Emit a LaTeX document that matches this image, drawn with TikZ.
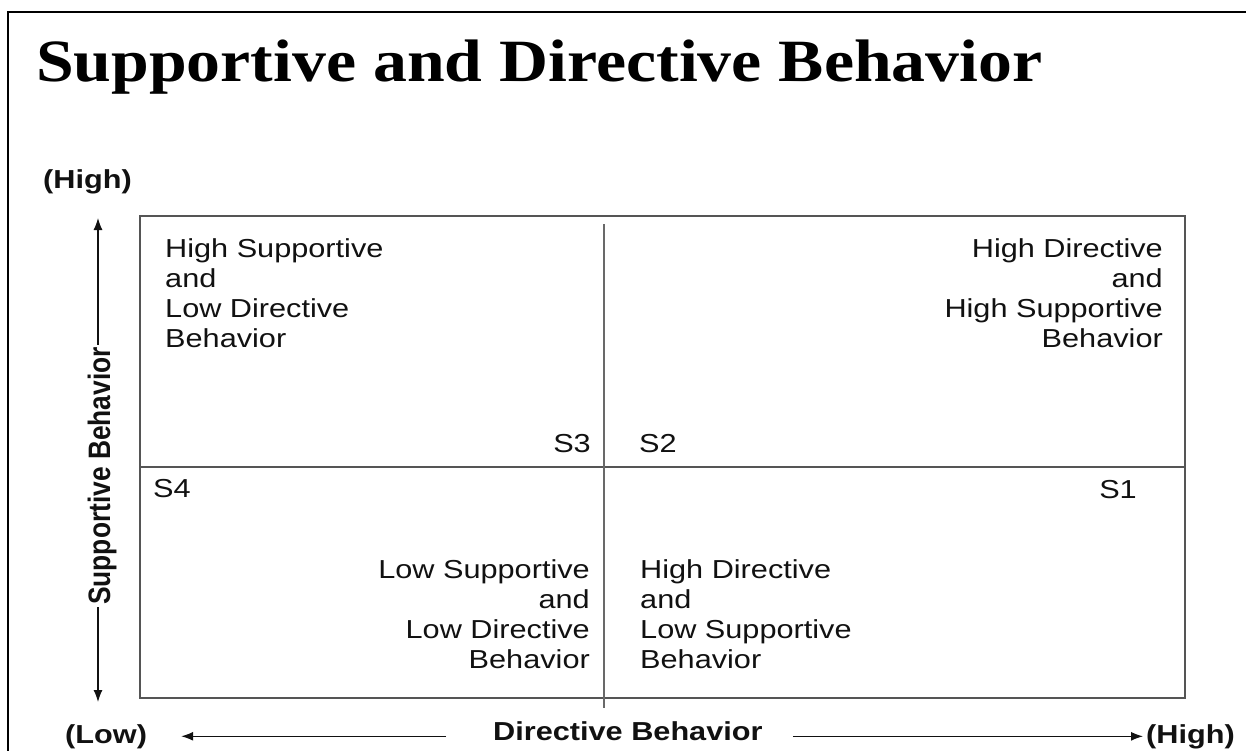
\documentclass[tikz,border=0pt]{standalone}
\usepackage{fontspec}
\setmainfont{Liberation Sans}[FakeStretch=1.18]
\newfontfamily\titlefont{Liberation Serif}[FakeStretch=1.13]
\newfontfamily\sidefont{Liberation Sans}[FakeStretch=0.85]
\usetikzlibrary{arrows.meta,positioning}
\definecolor{gridgray}{RGB}{85,85,85}
\definecolor{divgray}{RGB}{105,105,105}
\definecolor{inkblack}{RGB}{17,17,17}
\tikzset{
  qtext/.style={font=\fontsize{26bp}{30bp}\selectfont,text=inkblack,inner sep=0pt},
  axtext/.style={font=\fontsize{26bp}{30bp}\selectfont\bfseries,text=inkblack,inner sep=0pt},
  axarrow/.style={-{Latex[length=12bp,width=9bp]},line width=1.2bp,inkblack},
  quadline/.style={gridgray,line width=1.6bp}
}

\begin{document}
\begin{tikzpicture}[x=1bp,y=-1bp]
\useasboundingbox (0,0) rectangle (1246,751);
% Slide frame
\draw[line width=2.5bp,black] (8,760) -- (8,12) -- (1250,12);
% Title
\node[font={\titlefont\bfseries\fontsize{60bp}{62bp}\selectfont},anchor=base west,inner sep=0pt] (title) at (36,82) {Supportive and Directive Behavior};
% Grid
\coordinate (boxNW) at (140,216);
\coordinate (boxSE) at (1185,698);
\coordinate (midW) at (140,467);
\coordinate (midE) at (1185,467);
\coordinate (midN) at (604,224);
\coordinate (midS) at (604,708);
\draw[quadline] (boxNW) rectangle (boxSE);
\draw[quadline] (midW) -- (midE);
\draw[divgray,line width=2bp] (midN) -- (midS);
% Quadrant texts
\node[qtext,anchor=base west] (s3text) at (165,257) {\begin{tabular}[t]{@{}l@{}}High Supportive\\and\\Low Directive\\Behavior\end{tabular}};
\node[qtext,anchor=base east] (s2text) at (1163,257) {\begin{tabular}[t]{@{}r@{}}High Directive\\and\\High Supportive\\Behavior\end{tabular}};
\node[qtext,anchor=base east] (s4text) at (590,578) {\begin{tabular}[t]{@{}r@{}}Low Supportive\\and\\Low Directive\\Behavior\end{tabular}};
\node[qtext,anchor=base west] (s1text) at (640,578) {\begin{tabular}[t]{@{}l@{}}High Directive\\and\\Low Supportive\\Behavior\end{tabular}};
\node[qtext,anchor=base east] (s3) at (591,452) {S3};
\node[qtext,anchor=base west] (s2) at (639,452) {S2};
\node[qtext,anchor=base west] (s4) at (153,497) {S4};
\node[qtext,anchor=base east] (s1) at (1137,498) {S1};
% Supportive axis
\node[axtext,anchor=base west] (hightop) at (43,188) {(High)};
\node[font={\sidefont\bfseries\fontsize{31bp}{34bp}\selectfont},text=inkblack,rotate=90,inner sep=2bp] (suplabel) at (102,476) {Supportive Behavior};
\coordinate (suptop) at (98,218);
\coordinate (supbot) at (98,702);
\draw[axarrow] (suplabel.east -| suptop) -- (suptop);
\draw[axarrow] (suplabel.west -| supbot) -- (supbot);
% Directive axis
\node[axtext,anchor=base west] (lowlab) at (65,743) {(Low)};
\node[axtext,anchor=base west] (dirlabel) at (493,740) {Directive Behavior};
\node[axtext,anchor=base west] (highright) at (1146,743) {(High)};
\draw[axarrow] ([xshift=-47bp]dirlabel.west |- lowlab.east) -- ([xshift=34bp]lowlab.east);
\draw[axarrow] ([xshift=30bp]dirlabel.east |- highright.west) -- ([xshift=-3bp]highright.west);
\end{tikzpicture}
\end{document}
